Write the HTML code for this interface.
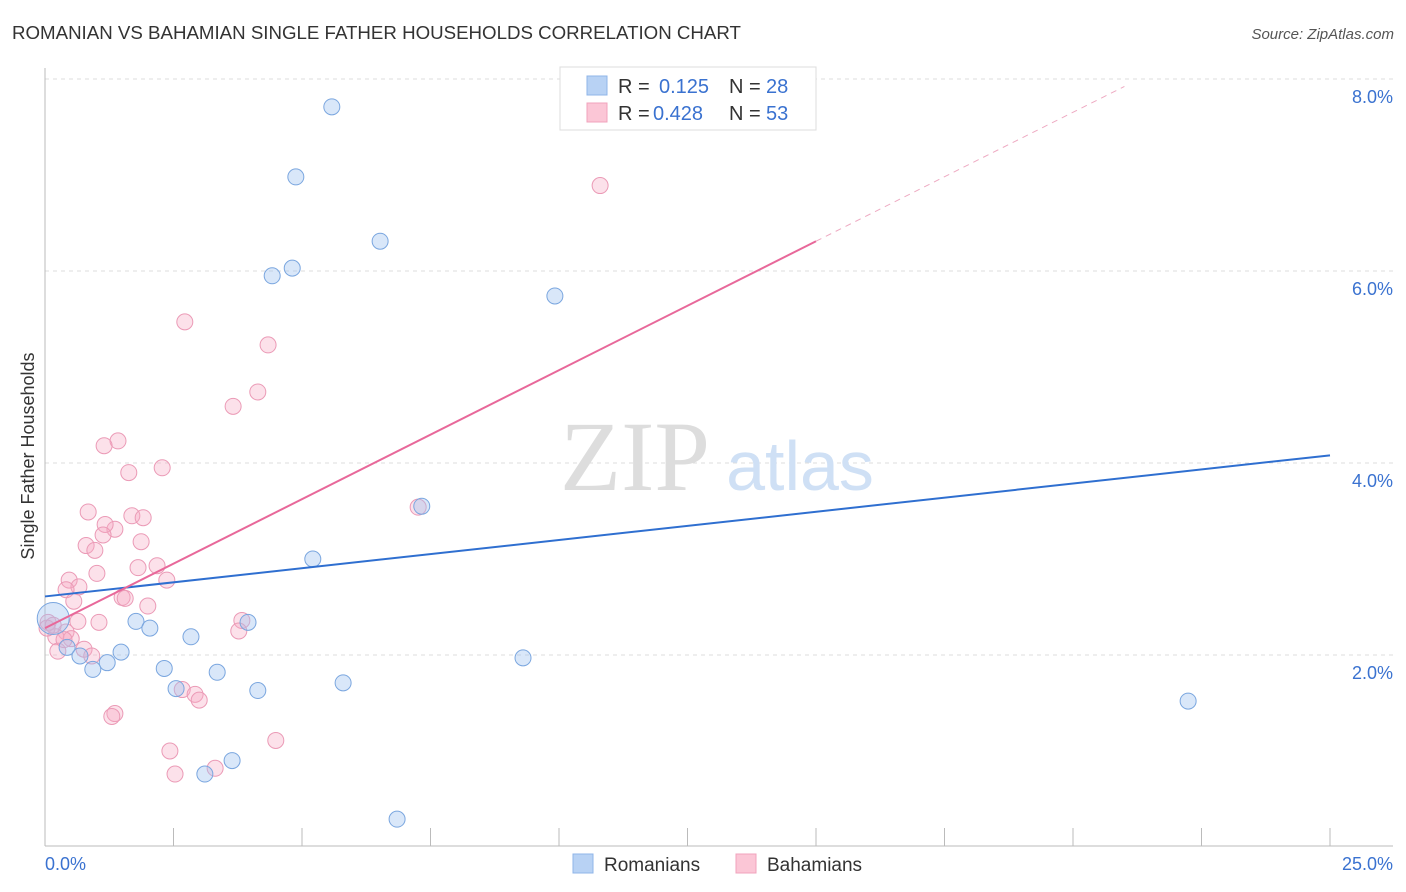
<!DOCTYPE html>
<html><head><meta charset="utf-8"><style>
body{margin:0;background:#fff;font-family:"Liberation Sans",sans-serif;}
svg{display:block}
</style></head><body>
<svg id="chart" width="1406" height="892" xmlns="http://www.w3.org/2000/svg">
<text x="12" y="39" font-size="18.7" fill="#333">ROMANIAN VS BAHAMIAN SINGLE FATHER HOUSEHOLDS CORRELATION CHART</text>
<text x="1394" y="39" font-size="15" fill="#555" text-anchor="end" font-style="italic">Source: ZipAtlas.com</text>
<g id="grid"></g>
<text x="635" y="490" font-size="100" fill="#ddd" text-anchor="middle" font-family="Liberation Serif,serif">ZIP</text>
<text x="800" y="490" font-size="70" fill="#cfe0f5" text-anchor="middle">atlas</text>
<text transform="translate(34,456) rotate(-90)" font-size="18" fill="#333" text-anchor="middle">Single Father Households</text>
<g id="points"></g>
<g id="lines"></g>
<g>
<rect x="560" y="67" width="256" height="63" fill="#fff" stroke="#ddd"/>
<rect x="587" y="76" width="20" height="19" fill="#b8d2f4" stroke="#8fb5e8"/>
<rect x="587" y="103" width="20" height="19" fill="#fbc6d6" stroke="#f0a3bc"/>
<text x="618" y="93" font-size="20" fill="#333">R = </text><text x="659" y="93" font-size="20" fill="#3a72d0">0.125</text>
<text x="729" y="93" font-size="20" fill="#333">N = </text><text x="766" y="93" font-size="20" fill="#3a72d0">28</text>
<text x="618" y="120" font-size="20" fill="#333">R = </text><text x="653" y="120" font-size="20" fill="#3a72d0">0.428</text>
<text x="729" y="120" font-size="20" fill="#333">N = </text><text x="766" y="120" font-size="20" fill="#3a72d0">53</text>
</g>
<g>
<rect x="573" y="854" width="20" height="19" fill="#b8d2f4" stroke="#8fb5e8"/>
<text x="604" y="871" font-size="19" fill="#333">Romanians</text>
<rect x="736" y="854" width="20" height="19" fill="#fbc6d6" stroke="#f0a3bc"/>
<text x="767" y="871" font-size="19" fill="#333">Bahamians</text>
</g>
</svg>
<script>
const xTicks=[0,2.5,5,7.5,10,12.5,15,17.5,20,22.5,25];
const yTicks=[2,4,6,8];
const yTickLabels=["2.0%","4.0%","6.0%","8.0%"];
const romX=[5.58,4.88,6.52,4.42,4.81,9.92,7.33,5.21,0.16,1.77,2.04,3.95,2.84,0.43,0.68,1.48,1.21,0.93,2.32,3.35,9.30,4.14,5.80,2.55,3.64,3.11,6.85,22.24];
const romY=[7.71,6.98,6.31,5.95,6.03,5.74,3.55,3.00,2.38,2.35,2.28,2.34,2.19,2.08,1.99,2.03,1.92,1.85,1.86,1.82,1.97,1.63,1.71,1.65,0.90,0.76,0.29,1.52];
const bahX=[10.80,2.72,4.34,4.14,3.66,1.42,1.15,2.28,1.63,7.26,0.84,1.69,1.91,1.36,1.17,1.13,1.87,0.80,0.97,1.81,2.18,1.01,0.47,2.37,0.66,0.41,1.50,1.56,0.56,2.00,3.83,0.06,3.77,0.64,1.05,0.41,0.21,0.51,0.76,0.25,0.91,2.67,2.92,3.00,1.36,1.30,2.43,4.49,3.31,2.53,0.04,0.37,0.16];
const bahY=[6.89,5.47,5.23,4.74,4.59,4.23,4.18,3.95,3.90,3.54,3.49,3.45,3.43,3.31,3.36,3.25,3.18,3.14,3.09,2.91,2.93,2.85,2.78,2.78,2.71,2.68,2.60,2.59,2.56,2.51,2.36,2.34,2.25,2.35,2.34,2.24,2.19,2.17,2.06,2.04,1.99,1.64,1.59,1.53,1.39,1.36,1.00,1.11,0.82,0.76,2.28,2.16,2.31];
const romTrend=[2.61,4.08];
const bahTrend=[2.28,6.31];
const bahDashEnd=21;
const X=v=>45+v*51.4, Y=v=>847-v*96;
const NS="http://www.w3.org/2000/svg";
function mk(t,a,p){const e=document.createElementNS(NS,t);for(const k in a)e.setAttribute(k,a[k]);p.appendChild(e);return e;}
const grid=document.getElementById('grid');
yTicks.forEach((v,i)=>{
 const l=mk('line',{x1:45,x2:1393,y1:Y(v),y2:Y(v),stroke:'#ddd','stroke-dasharray':'4,4'},grid);
 
 
 const t=mk('text',{x:1393,y:Y(v)+24,'font-size':18,fill:'#3a72d0','text-anchor':'end'},grid);
 t.textContent=yTickLabels[i];
 
 
});
const ax=mk('line',{x1:45,x2:1393,y1:846,y2:846,stroke:'#bbb'},grid);


const ay=mk('line',{x1:45,x2:45,y1:68,y2:846,stroke:'#bbb'},grid);


xTicks.forEach(v=>{const t=mk('line',{x1:X(v),x2:X(v),y1:828,y2:846,stroke:'#bbb'},grid);
 
 });
const xl0=mk('text',{x:45,y:870,'font-size':18,fill:'#3a72d0'},grid);xl0.textContent=xTicks[0].toFixed(1)+'%';


const xl1=mk('text',{x:1393,y:870,'font-size':18,fill:'#3a72d0','text-anchor':'end'},grid);xl1.textContent=xTicks[xTicks.length-1].toFixed(1)+'%';


const pts=document.getElementById('points');
bahX.forEach((v,i)=>{const c=mk('circle',{cx:X(v),cy:Y(bahY[i]),r:8,fill:'rgba(245,170,195,0.35)',stroke:'#eb9ab6','stroke-width':1},pts);
 
 });
romX.forEach((v,i)=>{const c=mk('circle',{cx:X(v),cy:Y(romY[i]),r:i==8?16:8,fill:'rgba(160,195,240,0.4)',stroke:'#7aa6df','stroke-width':1},pts);
 
 });
const ln=document.getElementById('lines');
const l1=mk('line',{x1:X(0),y1:Y(romTrend[0]),x2:X(25),y2:Y(romTrend[1]),stroke:'#2f6fd0','stroke-width':2},ln);


const l2=mk('line',{x1:X(0),y1:Y(bahTrend[0]),x2:X(15),y2:Y(bahTrend[1]),stroke:'#e8689a','stroke-width':2},ln);


const sl=(bahTrend[1]-bahTrend[0])/15;
const l3=mk('line',{x1:X(15),y1:Y(bahTrend[1]),x2:X(bahDashEnd),y2:Y(bahTrend[0]+sl*bahDashEnd),stroke:'#eeaac2','stroke-width':1,'stroke-dasharray':'6,5'},ln);


</script>
</body></html>
